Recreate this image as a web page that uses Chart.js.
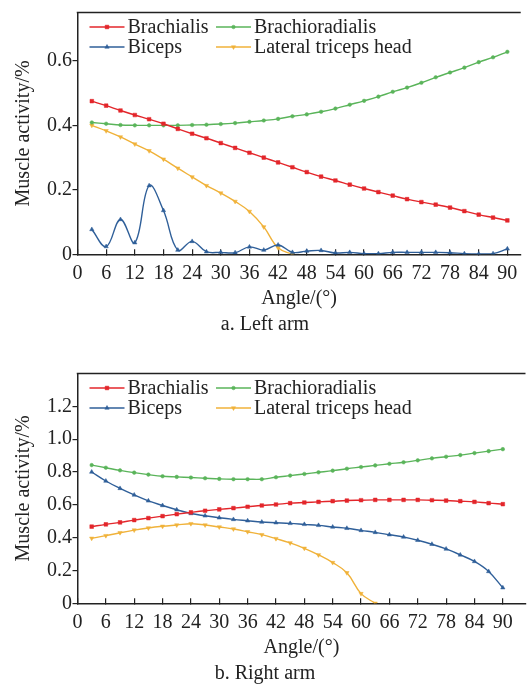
<!DOCTYPE html>
<html>
<head>
<meta charset="utf-8">
<script src="https://cdn.jsdelivr.net/npm/chart.js@4/dist/chart.umd.min.js"></script>
<style>
  html, body { margin: 0; padding: 0; background: #fff; overflow: hidden; width: 530px; height: 685px; }
  canvas { position: absolute; left: 0; }
  #c1 { top: 0; }
  #c2 { top: 337px; }
</style>
</head>
<body>
<canvas id="c1" width="530" height="337"></canvas>
<canvas id="c2" width="530" height="349"></canvas>
<script>
// ---------- data ----------
const angles = [3,6,9,12,15,18,21,24,27,30,33,36,39,42,45,48,51,54,57,60,63,66,69,72,75,78,81,84,87,90];
const xTicks = [0,6,12,18,24,30,36,42,48,54,60,66,72,78,84,90];
const seriesNames = ['Brachialis', 'Brachioradialis', 'Biceps', 'Lateral triceps head'];

// a. Left arm
const brachialisL = [0.475,0.461,0.446,0.432,0.419,0.405,0.389,0.374,0.360,0.345,0.330,0.315,0.300,0.285,0.270,0.255,0.241,0.229,0.216,0.204,0.193,0.182,0.171,0.162,0.154,0.145,0.134,0.123,0.114,0.105];
const brachioradialisL = [0.409,0.405,0.401,0.400,0.400,0.400,0.400,0.401,0.402,0.404,0.407,0.411,0.415,0.420,0.428,0.434,0.442,0.452,0.464,0.476,0.489,0.504,0.517,0.532,0.549,0.564,0.579,0.596,0.611,0.628];
const bicepsL = [0.077,0.024,0.108,0.036,0.213,0.136,0.013,0.040,0.008,0.006,0.005,0.023,0.013,0.029,0.006,0.010,0.012,0.004,0.006,0.002,0.002,0.006,0.006,0.006,0.006,0.005,0.002,0.001,0.002,0.017];
const tricepsL = [0.400,0.383,0.364,0.342,0.321,0.295,0.267,0.240,0.213,0.190,0.164,0.133,0.085,0.020,0,null,null,null,null,null,null,null,null,null,null,null,null,null,null,null];
const yTicksL = [0,0.2,0.4,0.6];
const yTickLabelsL = ['0','0.2','0.4','0.6'];

// b. Right arm
const brachialisR = [0.467,0.481,0.493,0.507,0.519,0.531,0.543,0.554,0.564,0.572,0.580,0.588,0.596,0.602,0.610,0.614,0.618,0.622,0.626,0.628,0.630,0.630,0.630,0.630,0.628,0.626,0.622,0.618,0.610,0.604];
const brachioradialisR = [0.842,0.826,0.810,0.796,0.784,0.774,0.770,0.766,0.762,0.758,0.756,0.756,0.756,0.768,0.778,0.788,0.798,0.808,0.820,0.830,0.840,0.850,0.859,0.871,0.883,0.893,0.903,0.915,0.927,0.939];
const bicepsR = [0.800,0.745,0.700,0.660,0.624,0.596,0.570,0.547,0.533,0.521,0.511,0.503,0.495,0.491,0.487,0.481,0.475,0.465,0.457,0.444,0.432,0.418,0.404,0.384,0.360,0.331,0.295,0.255,0.194,0.095];
const tricepsR = [0.396,0.412,0.430,0.446,0.459,0.469,0.477,0.485,0.477,0.465,0.453,0.436,0.418,0.394,0.368,0.335,0.295,0.248,0.186,0.059,0,null,null,null,null,null,null,null,null,null];
const yTicksR = [0,0.2,0.4,0.6,0.8,1.0,1.2];
const yTickLabelsR = ['0','0.2','0.4','0.6','0.8','1.0','1.2'];

// ---------- styles ----------
const FONT = '"Liberation Serif", "Times New Roman", serif';
const INK = '#222';
const styles = [
  { color: '#e3262b', pointStyle: 'rect', radius: 2.6, rotation: 0 },
  { color: '#5ab45a', pointStyle: 'circle', radius: 1.8, rotation: 0 },
  { color: '#2f5f99', pointStyle: 'triangle', radius: 2.5, rotation: 0 },
  { color: '#f0b23a', pointStyle: 'triangle', radius: 2.5, rotation: 180 }
];

Chart.defaults.font.family = FONT;
Chart.defaults.font.size = 20;
Chart.defaults.color = INK;

function toPoints(vals) { return angles.map((a, i) => ({ x: a, y: vals[i] })); }

function makeDatasets(seriesList) {
  return seriesList.map((vals, i) => ({
    label: seriesNames[i],
    data: toPoints(vals),
    borderColor: styles[i].color,
    backgroundColor: styles[i].color,
    pointBackgroundColor: styles[i].color,
    pointBorderColor: styles[i].color,
    pointStyle: styles[i].pointStyle,
    pointRotation: styles[i].rotation,
    pointRadius: styles[i].radius,
    pointBorderWidth: 0.5,
    borderWidth: 1.4,
    tension: 0.4,
    spanGaps: false
  }));
}

// legend drawn inside plot area + top frame line
const insideLegend = {
  id: 'insideLegend',
  afterDraw(chart, args, opts) {
    const ctx = chart.ctx;
    const ca = chart.chartArea;
    ctx.save();
    ctx.strokeStyle = INK;
    ctx.lineWidth = 1.5;
    ctx.beginPath();
    ctx.moveTo(ca.left - 0.75, ca.top);
    ctx.lineTo(ca.right, ca.top);
    ctx.stroke();
    const colX = opts.colX, rowY = opts.rowY;
    ctx.font = '20px ' + FONT;
    ctx.textBaseline = 'middle';
    ctx.textAlign = 'left';
    chart.data.datasets.forEach((ds, i) => {
      const x0 = ca.left + colX[i % 2];
      const y0 = ca.top + rowY[Math.floor(i / 2)];
      ctx.strokeStyle = ds.borderColor;
      ctx.lineWidth = 1.6;
      ctx.beginPath();
      ctx.moveTo(x0, y0);
      ctx.lineTo(x0 + 35, y0);
      ctx.stroke();
      ctx.fillStyle = ds.borderColor;
      ctx.strokeStyle = ds.borderColor;
      ctx.lineWidth = 0.5;
      Chart.helpers.drawPoint(ctx, { pointStyle: ds.pointStyle, rotation: ds.pointRotation, radius: ds.pointRadius, borderWidth: 0.5 }, x0 + 17.5, y0);
      ctx.fillStyle = INK;
      ctx.fillText(ds.label, x0 + 38, y0 + 1);
    });
    ctx.restore();
  }
};

function makeChart(id, seriesList, xMax, yMax, yTicks, yLabels, caption, padTop) {
  return new Chart(document.getElementById(id), {
    type: 'line',
    data: { datasets: makeDatasets(seriesList) },
    plugins: [insideLegend],
    options: {
      responsive: false,
      animation: false,
      devicePixelRatio: 1,
      layout: { padding: { top: padTop, left: 0, right: 0, bottom: 0 } },
      plugins: {
        legend: { display: false },
        tooltip: { enabled: false },
        title: {
          display: true, text: caption, position: 'bottom',
          padding: { top: 0, bottom: 0 },
          font: { size: 20, weight: 'normal', family: FONT }, color: INK
        },
        insideLegend: { colX: [12, 138.5], rowY: [14.5, 34.5] }
      },
      scales: {
        x: {
          type: 'linear', min: 0, max: xMax,
          afterBuildTicks: (s) => { s.ticks = xTicks.map(v => ({ value: v })); },
          grid: { drawOnChartArea: false, drawTicks: true, tickLength: -5, color: INK, lineWidth: 1.2 },
          border: { display: true, color: INK, width: 1.5 },
          ticks: { padding: 12.5, maxRotation: 0, autoSkip: false, color: INK, font: { size: 20 } },
          title: { display: true, text: 'Angle/(°)', color: INK, font: { size: 20 }, padding: { top: -11.3, bottom: 2 } }
        },
        y: {
          min: 0, max: yMax,
          afterBuildTicks: (s) => { s.ticks = yTicks.map(v => ({ value: v })); },
          grid: { drawOnChartArea: false, drawTicks: true, tickLength: 5, color: INK, lineWidth: 1.2 },
          border: { display: true, color: INK, width: 1.5 },
          ticks: { padding: 0.5, color: INK, font: { size: 20 }, callback: (v, i) => yLabels[i] },
          title: { display: true, text: 'Muscle activity/%', color: INK, font: { size: 20 }, padding: { top: 12, bottom: 10.5 } }
        }
      }
    }
  });
}

makeChart('c1', [brachialisL, brachioradialisL, bicepsL, tricepsL], 92.8, 0.75, yTicksL, yTickLabelsL, 'a. Left arm', 11);
makeChart('c2', [brachialisR, brachioradialisR, bicepsR, tricepsR], 94.8, 1.4, yTicksR, yTickLabelsR, 'b. Right arm', 36.5);
</script>
</body>
</html>
